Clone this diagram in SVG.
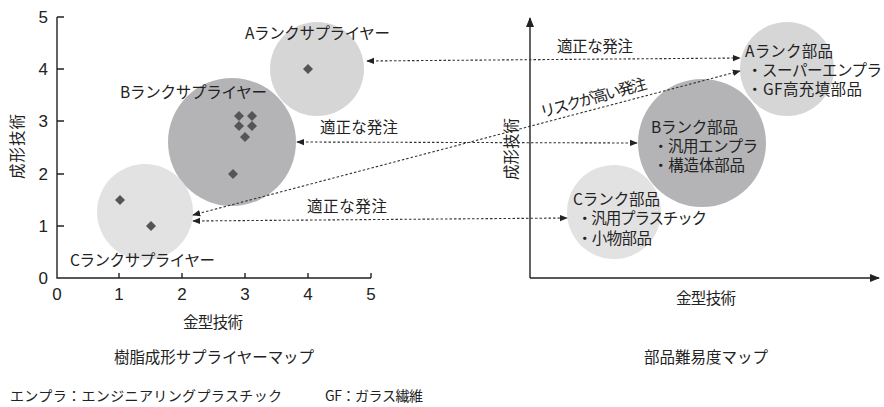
<svg xmlns="http://www.w3.org/2000/svg" width="884" height="407" viewBox="0 0 884 407">
<style>
text{font-family:"Noto Sans CJK JP","Liberation Sans",sans-serif;fill:#222;font-size:15.5px}
text.num{font-family:"Liberation Sans",sans-serif;font-size:17px}
text.fn{font-size:14px}
.ax{stroke:#222;stroke-width:1.4;fill:none}
.dash{stroke:#333;stroke-width:1.1;stroke-dasharray:2.5 2;fill:none;marker-start:url(#ah);marker-end:url(#ah)}
.dm{fill:#555}
.cl{fill:#e2e2e3}
.ca{fill:#d6d6d7}
.cb{fill:#b4b4b6}
</style>
<defs>
<marker id="ah" viewBox="0 0 10 10" refX="9" refY="5" markerWidth="8" markerHeight="8" markerUnits="userSpaceOnUse" orient="auto-start-reverse"><path d="M0,1 L10,5 L0,9 Z" fill="#222"/></marker>
<marker id="ax" viewBox="0 0 10 10" refX="9" refY="5" markerWidth="10" markerHeight="10" markerUnits="userSpaceOnUse" orient="auto"><path d="M0,1 L10,5 L0,9 Z" fill="#222"/></marker>
<path id="dia" d="M0,-5 L5,0 L0,5 L-5,0 Z"/>
</defs>

<g id="left-chart">
<circle class="ca" cx="317" cy="69" r="47"/>
<circle class="cb" cx="232" cy="142" r="64"/>
<circle class="cl" cx="145" cy="212" r="48"/>
<path class="ax" d="M57,17 V278 H371"/>
<path class="ax" d="M57,17 H64 M57,69 H64 M57,121 H64 M57,174 H64 M57,226 H64 M119,278 V273 M182,278 V273 M245,278 V273 M308,278 V273 M371,278 V273"/>
<g text-anchor="end">
<text class="num" x="48" y="23">5</text><text class="num" x="48" y="75">4</text><text class="num" x="48" y="127">3</text><text class="num" x="48" y="180">2</text><text class="num" x="48" y="232">1</text><text class="num" x="48" y="284">0</text>
</g>
<g text-anchor="middle">
<text class="num" x="57" y="300">0</text><text class="num" x="119" y="300">1</text><text class="num" x="182" y="300">2</text><text class="num" x="245" y="300">3</text><text class="num" x="308" y="300">4</text><text class="num" x="371" y="300">5</text>
</g>
<g class="dm">
<use href="#dia" x="120" y="200"/><use href="#dia" x="151" y="226"/><use href="#dia" x="233" y="174"/><use href="#dia" x="308" y="69"/>
<use href="#dia" x="239" y="116"/><use href="#dia" x="252" y="116"/><use href="#dia" x="239" y="126"/><use href="#dia" x="252" y="126"/><use href="#dia" x="245" y="137"/>
</g>
<text x="245" y="39" textLength="145" lengthAdjust="spacing">Aランクサプライヤー</text>
<text x="120" y="98" textLength="147" lengthAdjust="spacing">Bランクサプライヤー</text>
<text x="70" y="266" textLength="145" lengthAdjust="spacing">Cランクサプライヤー</text>
<text transform="translate(23,147) rotate(-90)" x="-32" textLength="65" lengthAdjust="spacing">成形技術</text>
<text x="183" y="328" textLength="60" lengthAdjust="spacing">金型技術</text>
<text x="114" y="363" textLength="200" lengthAdjust="spacing">樹脂成形サプライヤーマップ</text>
</g>

<g id="right-chart">
<circle class="ca" cx="787" cy="69" r="47"/>
<circle class="cb" cx="702" cy="143" r="64"/>
<circle class="cl" cx="614" cy="212" r="47"/>
<path class="ax" d="M530,278 V18" marker-end="url(#ax)"/>
<path class="ax" d="M530,278 H879" marker-end="url(#ax)"/>
<text transform="translate(517,149) rotate(-90)" x="-31" textLength="62" lengthAdjust="spacing">成形技術</text>
<text x="676" y="304" textLength="60" lengthAdjust="spacing">金型技術</text>
<text x="644" y="363" textLength="124" lengthAdjust="spacing">部品難易度マップ</text>
</g>

<g id="node-a">
<text x="745" y="57" textLength="88" lengthAdjust="spacing">Aランク部品</text>
<text x="747" y="76" textLength="135" lengthAdjust="spacing">・スーパーエンプラ</text>
<text x="747" y="95" textLength="115" lengthAdjust="spacing">・GF高充填部品</text>
</g>
<g id="node-b">
<text x="651" y="133" textLength="87" lengthAdjust="spacing">Bランク部品</text>
<text x="653" y="152" textLength="105" lengthAdjust="spacing">・汎用エンプラ</text>
<text x="653" y="171" textLength="92" lengthAdjust="spacing">・構造体部品</text>
</g>
<g id="node-c">
<text x="573" y="205" textLength="87" lengthAdjust="spacing">Cランク部品</text>
<text x="577" y="224" textLength="130" lengthAdjust="spacing">・汎用プラスチック</text>
<text x="577" y="244" textLength="75" lengthAdjust="spacing">・小物部品</text>
</g>

<g id="connectors">
<path class="dash" d="M367,61 L740,58"/>
<path class="dash" d="M297,142 L637,143"/>
<path class="dash" d="M193,221 L567,218"/>
<path class="dash" d="M193,215 L740,71"/>
<text x="557" y="52" textLength="76" lengthAdjust="spacing">適正な発注</text>
<text x="320" y="133" textLength="78" lengthAdjust="spacing">適正な発注</text>
<text x="307" y="212" textLength="80" lengthAdjust="spacing">適正な発注</text>
<text transform="translate(595,103) rotate(-15.5)" x="-55" textLength="110" lengthAdjust="spacing">リスクが高い発注</text>
</g>

<g id="footnote">
<text class="fn" x="10" y="401" textLength="272" lengthAdjust="spacing">エンプラ：エンジニアリングプラスチック</text>
<text class="fn" x="325" y="401" textLength="98" lengthAdjust="spacing">GF：ガラス繊維</text>
</g>
</svg>
